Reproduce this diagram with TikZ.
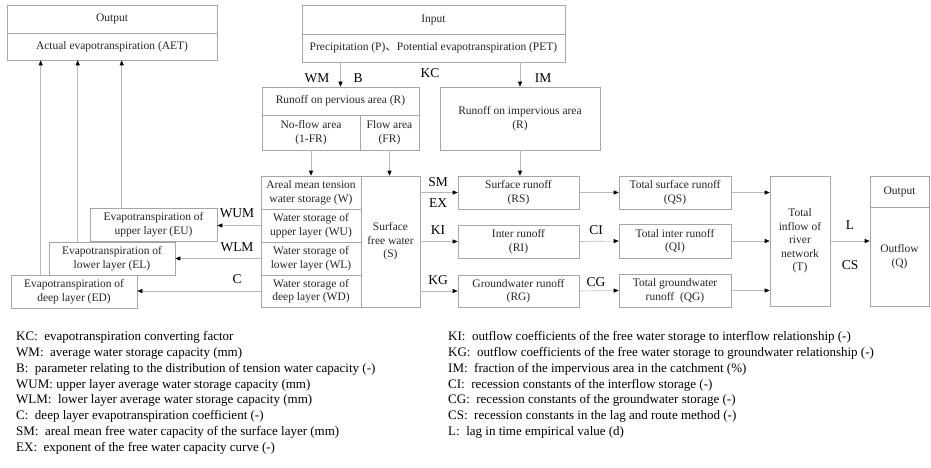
\documentclass[tikz,border=0pt]{standalone}
\usepackage{fontspec}
\setmainfont{Liberation Serif}
\newfontfamily\cjk{Noto Sans CJK SC}
\usetikzlibrary{arrows.meta}
\tikzset{
  box/.style={draw=gray!70, line width=0.6pt, inner sep=1pt, align=center,
    font=\fontsize{11.5}{13.5}\selectfont, text=black!85},
  arr/.style={draw=gray!55, line width=0.6pt, -{Triangle[length=5pt,width=4pt,color=black]}},
  lbl/.style={font=\fontsize{13.5}{15}\selectfont, inner sep=0pt},
  legend/.style={font=\fontsize{13}{15.9}\selectfont, inner sep=0pt, align=left, anchor=north west},
}
\begin{document}
\begin{tikzpicture}[x=1pt,y=-1pt]
    \useasboundingbox (0,0) rectangle (931,468);
    % input and output at the top
    \node[box, minimum width=210pt, minimum height=28pt] at (112,19)     (outtop) {Output};
    \node[box, minimum width=210pt, minimum height=27pt] at (112,46.5)   (aet)    {Actual evapotranspiration (AET)};
    \node[box, minimum width=263pt, minimum height=29pt] at (433.5,19.5) (intop)  {Input};
    \node[box, minimum width=263pt, minimum height=28pt] at (433.5,48)   (pet)    {Precipitation (P){\cjk 、}Potential evapotranspiration (PET)};

    % runoff generation
    \node[box, minimum width=157pt, minimum height=28pt] at (340.5,101)  (perv)     {Runoff on pervious area (R)};
    \node[box, minimum width=98pt,  minimum height=35pt] at (311,132.5)  (noflow)   {No-flow area\\(1-FR)};
    \node[box, minimum width=59pt,  minimum height=35pt] at (389.5,132.5) (flowarea) {Flow area\\(FR)};
    \node[box, minimum width=160pt, minimum height=63pt] at (520,118.5)  (imperv)   {Runoff on impervious area\\(R)};

    % storages
    \node[box, minimum width=100pt, minimum height=33pt] at (311,192.5)  (w)  {Areal mean tension\\water storage (W)};
    \node[box, minimum width=100pt, minimum height=33pt] at (311,225.5)  (wu) {Water storage of\\upper layer (WU)};
    \node[box, minimum width=100pt, minimum height=33pt] at (311,258.5)  (wl) {Water storage of\\lower layer (WL)};
    \node[box, minimum width=100pt, minimum height=32pt] at (311,291)    (wd) {Water storage of\\deep layer (WD)};
    \node[box, minimum width=59pt,  minimum height=131pt] at (390.5,241.5) (s) {Surface\\free water\\(S)};

    % evapotranspiration
    \node[box, minimum width=127pt, minimum height=33pt] at (153.5,224.5) (eu) {Evapotranspiration of\\upper layer (EU)};
    \node[box, minimum width=126pt, minimum height=33pt] at (112,258.5)   (el) {Evapotranspiration of\\lower layer (EL)};
    \node[box, minimum width=126pt, minimum height=33pt] at (74,291.5)    (ed) {Evapotranspiration of\\deep layer (ED)};

    % runoff components and routing
    \node[box, minimum width=121pt, minimum height=33pt] at (518.5,192.5) (rs) {Surface runoff\\(RS)};
    \node[box, minimum width=121pt, minimum height=33pt] at (518.5,241.5) (ri) {Inter runoff\\(RI)};
    \node[box, minimum width=121pt, minimum height=32pt] at (518.5,291)   (rg) {Groundwater runoff\\(RG)};
    \node[box, minimum width=112pt, minimum height=33pt] at (675,192.5)   (qs) {Total surface runoff\\(QS)};
    \node[box, minimum width=112pt, minimum height=34pt] at (675,241)     (qi) {Total inter runoff\\(QI)};
    \node[box, minimum width=112pt, minimum height=33pt] at (675,290.5)   (qg) {Total groundwater\\runoff~ (QG)};
    \node[box, minimum width=60pt,  minimum height=130pt] at (800,241)    (t)  {Total\\inflow of\\river\\network\\(T)};
    \node[box, minimum width=59pt,  minimum height=31pt] at (899.5,191.5) (qtop) {Output};
    \node[box, minimum width=59pt,  minimum height=99pt] at (899.5,256.5) (q)    {Outflow\\(Q)};

    % parameters
    \node[lbl] at (317,78)  (wm-l)  {WM};
    \node[lbl] at (358,78)  (b-l)   {B};
    \node[lbl] at (430,73)  (kc-l)  {KC};
    \node[lbl] at (543,78)  (im-l)  {IM};
    \node[lbl] at (438,182) (sm-l)  {SM};
    \node[lbl] at (438,203) (ex-l)  {EX};
    \node[lbl] at (438,230) (ki-l)  {KI};
    \node[lbl] at (438,280) (kg-l)  {KG};
    \node[lbl] at (596,230) (ci-l)  {CI};
    \node[lbl] at (596,282) (cg-l)  {CG};
    \node[lbl] at (850,225) (l-l)   {L};
    \node[lbl] at (850,265) (cs-l)  {CS};
    \node[lbl] at (237,213) (wum-l) {WUM};
    \node[lbl] at (237,247) (wlm-l) {WLM};
    \node[lbl] at (237,279) (c-l)   {C};

    \coordinate (eu-up) at ([xshift=32pt]eu.north west);
    \coordinate (el-up) at ([xshift=29pt]el.north west);
    \coordinate (ed-up) at ([xshift=30pt]ed.north west);

    \draw[arr] (perv.north |- pet.south) -- (perv.north);
    \draw[arr] (imperv.north |- pet.south) -- (imperv.north);
    \draw[arr] (noflow.south) -- (noflow.south |- w.north);
    \draw[arr] (flowarea.south) -- (flowarea.south |- s.north);
    \draw[arr] (imperv.south) -- (imperv.south |- rs.north);
    \draw[arr] (s.east |- rs.west) -- (rs.west);
    \draw[arr] (s.east |- ri.west) -- (ri.west);
    \draw[arr] (s.east |- rg.west) -- (rg.west);
    \draw[arr] (rs.east) -- (qs.west);
    \draw[arr] (ri.east) -- (qi.west);
    \draw[arr] (rg.east) -- (qg.west);
    \draw[arr] (qs.east) -- (qs.east -| t.west);
    \draw[arr] (qi.east) -- (qi.east -| t.west);
    \draw[arr] (qg.east) -- (qg.east -| t.west);
    \draw[arr] (t.east) -- (t.east -| q.west);
    \draw[arr] (wu.west) -- (wu.west -| eu.east);
    \draw[arr] (wl.west) -- (wl.west -| el.east);
    \draw[arr] (wd.west) -- (wd.west -| ed.east);
    \draw[arr] (eu-up) -- (eu-up |- aet.south);
    \draw[arr] (el-up) -- (el-up |- aet.south);
    \draw[arr] (ed-up) -- (ed-up |- aet.south);

    % legend
    \node[legend] at (16,331) (leg-left) {KC:~ evapotranspiration converting factor\\
      WM:~ average water storage capacity (mm)\\
      B:~ parameter relating to the distribution of tension water capacity (-)\\
      WUM: upper layer average water storage capacity (mm)\\
      WLM:~ lower layer average water storage capacity (mm)\\
      C:~ deep layer evapotranspiration coefficient (-)\\
      SM:~ areal mean free water capacity of the surface layer (mm)\\
      EX:~ exponent of the free water capacity curve (-)};
    \node[legend] at (448,331) (leg-right) {KI:~ outflow coefficients of the free water storage to interflow relationship (-)\\
      KG:~ outflow coefficients of the free water storage to groundwater relationship (-)\\
      IM:~ fraction of the impervious area in the catchment (\%)\\
      CI:~ recession constants of the interflow storage (-)\\
      CG:~ recession constants of the groundwater storage (-)\\
      CS:~ recession constants in the lag and route method (-)\\
      L:~ lag in time empirical value (d)};
\end{tikzpicture}
\end{document}
